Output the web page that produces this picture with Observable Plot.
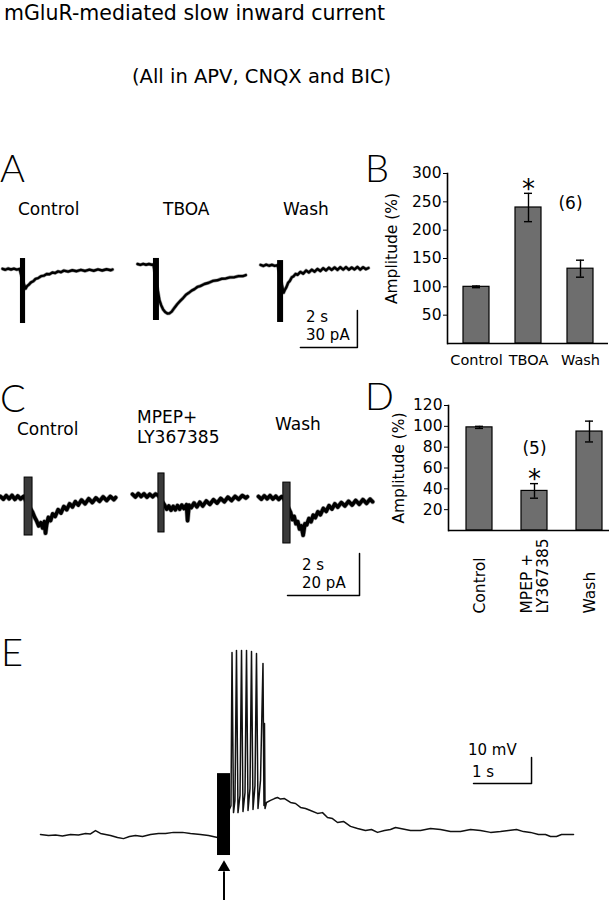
<!DOCTYPE html>
<html>
<head>
<meta charset="utf-8">
<script src="https://cdn.jsdelivr.net/npm/d3@7"></script>
<script src="https://cdn.jsdelivr.net/npm/@observablehq/plot@0.6"></script>
<style>
html,body{margin:0;padding:0;background:#fff;}
#fig{position:relative;width:611px;height:900px;overflow:hidden;background:#fff;}
#fig svg{position:absolute;}
</style>
</head>
<body>
<div id="fig"></div>
<script>
// ---------------- DATA ----------------
const titleText = "mGluR-mediated slow inward current";
const subtitleText = "(All in APV, CNQX and BIC)";
const aLabels = ["Control", "TBOA", "Wash"];
const cLabels = ["Control", "MPEP+\nLY367385", "Wash"];

// Panel A traces: [time (s), current (pA)]
const aControl = [[0,0.6],[0.1,-0.2],[0.2,0.8],[0.3,0],[0.4,0.7],[0.5,-0.1],[0.6,0.5],[0.72,-10],[0.81,-15.5],[0.86,-13.5],[0.93,-12.2],[1.0,-10.4],[1.08,-9.5],[1.16,-7.6],[1.25,-7.0],[1.35,-5.4],[1.45,-5.0],[1.55,-3.6],[1.65,-3.8],[1.75,-2.4],[1.85,-2.9],[1.95,-1.5],[2.05,-2.2],[2.15,-0.9],[2.3,-1.7],[2.45,-0.6],[2.6,-1.4],[2.75,-0.3],[2.9,-1.2],[3.05,-0.1],[3.2,-1.0],[3.35,0.1],[3.5,-0.8],[3.65,0.2],[3.8,-0.6],[3.86,0]];
const aTBOA = [[0,0.4],[0.1,-0.3],[0.2,0.5],[0.3,-0.2],[0.4,0.4],[0.5,-0.2],[0.56,0],[0.77,-29],[0.83,-33],[0.9,-36.5],[0.97,-38.5],[1.05,-39.7],[1.12,-39.6],[1.2,-38.2],[1.3,-35],[1.4,-32],[1.5,-29.5],[1.6,-27.2],[1.7,-24.5],[1.8,-23],[1.9,-21.2],[2.0,-20],[2.1,-18.2],[2.2,-17.5],[2.35,-15.8],[2.5,-14.8],[2.65,-13.3],[2.8,-12.8],[2.95,-11.6],[3.1,-11.3],[3.25,-10.4],[3.4,-10.3],[3.55,-9.4],[3.7,-9.4],[3.8,-8.6]];
const aWash = [[0,0.5],[0.1,-0.4],[0.2,0.7],[0.3,-0.2],[0.4,0.6],[0.5,-0.3],[0.6,0.3],[0.81,-22],[0.86,-19.5],[0.91,-17.5],[0.97,-14],[1.03,-12.5],[1.1,-9.5],[1.16,-8.8],[1.23,-6.8],[1.3,-7.6],[1.4,-5.2],[1.5,-6.6],[1.6,-4.0],[1.7,-5.6],[1.8,-3.4],[1.9,-5],[2.0,-2.8],[2.1,-4.5],[2.2,-2.2],[2.3,-4],[2.4,-1.8],[2.5,-3.6],[2.6,-1.6],[2.7,-3.6],[2.8,-1.4],[2.9,-3.3],[3.0,-1.3],[3.1,-3.4],[3.2,-1.6],[3.3,-3.2],[3.4,-1.2],[3.5,-3.4],[3.6,-1.4],[3.7,-3.0],[3.79,-2.0]];
const aStim = [[0.63,0.81],[0.56,0.77],[0.60,0.81]];        // stimulus artifact times (s)
const aArtifact = [[8.9,-43.8],[4.9,-45.4],[4,-46.2]];       // artifact extent (pA)
const aScale = {dt: 2, di: 30};                              // 2 s, 30 pA

// Panel C traces
const cControl = [[0,0.5],[0.08,-0.8],[0.16,0.9],[0.24,-0.6],[0.32,1.0],[0.4,-0.9],[0.48,0.7],[0.56,-0.7],[0.64,0.5],[0.89,-7],[0.95,-9.5],[1.0,-11],[1.06,-13.5],[1.12,-12],[1.17,-14.5],[1.22,-11.5],[1.25,-17],[1.28,-13],[1.33,-9.5],[1.39,-11],[1.45,-7.8],[1.52,-9],[1.6,-5.8],[1.68,-7.4],[1.76,-4.3],[1.84,-5.8],[1.92,-3],[2.0,-4.5],[2.08,-2],[2.16,-3.6],[2.25,-1.2],[2.35,-3],[2.45,-0.6],[2.55,-2.4],[2.65,-0.2],[2.75,-1.8],[2.85,0.3],[2.95,-1.4],[3.05,0.5],[3.15,-1.0],[3.2,0]];
const cMPEP = [[0,0.6],[0.08,-0.7],[0.16,0.9],[0.24,-0.5],[0.32,0.8],[0.4,-0.8],[0.48,0.6],[0.56,-0.6],[0.64,0.7],[0.72,0],[0.89,-4.5],[0.95,-6.5],[1.01,-5],[1.07,-7],[1.13,-5.2],[1.19,-6.8],[1.25,-4.8],[1.31,-6.5],[1.37,-4.6],[1.43,-6.2],[1.5,-4.4],[1.53,-12],[1.57,-4.6],[1.63,-5.8],[1.71,-3.6],[1.79,-5.4],[1.87,-3.2],[1.95,-5],[2.05,-2.6],[2.15,-4.2],[2.25,-2],[2.35,-3.6],[2.45,-1.4],[2.55,-3],[2.65,-0.8],[2.75,-2.4],[2.85,-0.4],[2.95,-1.8],[3.05,0],[3.15,-1.2],[3.19,-0.6]];
const cWash = [[0,0.5],[0.08,-0.8],[0.16,0.8],[0.24,-0.6],[0.32,0.9],[0.4,-0.7],[0.48,0.6],[0.56,-0.9],[0.64,0.4],[0.69,0],[0.89,-7],[0.94,-10.5],[0.99,-9],[1.04,-12.5],[1.09,-11.5],[1.14,-15],[1.19,-13.5],[1.24,-18],[1.29,-12.5],[1.34,-13],[1.4,-10],[1.46,-11.5],[1.52,-8.4],[1.58,-9.6],[1.65,-6.8],[1.72,-8.2],[1.8,-5.2],[1.88,-6.6],[1.96,-3.9],[2.04,-5.5],[2.12,-3],[2.2,-4.6],[2.3,-2.4],[2.4,-4],[2.5,-1.8],[2.6,-3.6],[2.7,-1.4],[2.8,-3.2],[2.9,-1],[3.0,-2.8],[3.1,-0.8],[3.17,-2]];
const cStim = [[0.67,0.89],[0.72,0.89],[0.69,0.89]];
const cArtifact = [[9.5,-18.1],[10.5,-17.6],[7.1,-21.9]];
const cScale = {dt: 2, di: 20};                              // 2 s, 20 pA

// Panel B bar chart
const bCats = ["Control", "TBOA", "Wash"];
const bMeans = [100, 240, 132];
const bErrs = [1.5, 25, 15];
const bTicks = [50, 100, 150, 200, 250, 300];
const bStar = ["TBOA"];
const bN = "(6)";

// Panel D bar chart
const dCats = ["Control", "MPEP +\nLY367385", "Wash"];
const dMeans = [99, 38, 95];
const dErrs = [1, 7, 10];
const dTicks = [20, 40, 60, 80, 100, 120];
const dStar = ["MPEP +\nLY367385"];
const dN = "(5)";
const yLabel = "Amplitude (%)";

// Panel E: membrane potential [time (s), mV relative to rest]
const eTrace = [[0,0.4],[0.138,0],[0.259,0.2],[0.379,-0.2],[0.517,0.4],[0.655,0.2],[0.776,0.8],[0.862,0.6],[0.948,1.9],[1.034,0.8],[1.121,0.4],[1.207,0],[1.328,-0.8],[1.431,-1.2],[1.534,-0.4],[1.638,0],[1.759,-0.4],[1.897,0.4],[2.034,0.8],[2.155,0.8],[2.293,1.2],[2.448,1.2],[2.586,0.8],[2.759,0.4],[2.897,0],[3.052,-0.8],
  [3.284,11.5],[3.302,70.4],[3.328,8.8],[3.353,13.5],[3.379,71.2],[3.405,8.8],[3.440,15.4],[3.466,71.2],[3.491,9.2],[3.526,16.5],[3.552,71.2],[3.578,9.6],[3.612,18.1],[3.638,70.8],[3.664,10],[3.698,19.2],[3.724,70],[3.750,10.4],[3.793,21.2],[3.836,66.2],[3.853,11.5],[3.862,43.1],[3.871,10.4],
  [3.897,12.7],[3.966,13.5],[4.034,14.2],[4.086,14.6],[4.138,14.0],[4.207,14.2],[4.310,12.7],[4.397,12.3],[4.483,10.8],[4.569,10.4],[4.655,9.6],[4.776,8.5],[4.862,8.8],[4.948,6.9],[5.034,6.5],[5.121,5.0],[5.224,5.4],[5.345,3.5],[5.466,2.7],[5.603,1.9],[5.707,2.3],[5.810,1.2],[5.931,1.9],[6.034,2.3],[6.121,3.1],[6.207,2.7],[6.379,1.9],[6.552,1.9],[6.724,2.7],[6.897,2.3],[7.069,1.5],[7.241,1.5],[7.414,2.3],[7.586,1.9],[7.759,1.2],[7.931,1.5],[8.069,1.9],[8.207,2.3],[8.328,1.5],[8.448,1.2],[8.586,0.4],[8.707,0.4],[8.793,-0.4],[8.897,-0.4],[8.983,0.4],[9.052,0.4],[9.190,0.4]];
const eStim = [3.052, 3.276];
const eArtifact = [23.8, -7.7];
const eScale = {dt: 1, dv: 10};                              // 1 s, 10 mV

// ---------------- LAYOUT HELPERS ----------------
const fig = document.getElementById("fig");
const FONT = "'DejaVu Sans', Verdana, sans-serif";
function put(node, left, top) {
  node.style.position = "absolute";
  node.style.left = left + "px";
  node.style.top = top + "px";
  fig.appendChild(node);
}
const baseStyle = {background: "transparent", overflow: "visible", color: "#000", fontFamily: FONT};

function tracePanel(cfg) {
  const {pts, stim, art, left, top, width, height, base, sx, sy, sw, stimFill, stimStroke, bar} = cfg;
  const marks = [
    Plot.line(pts, {stroke: "#222", strokeWidth: sw + 1.2, strokeOpacity: 0.45, strokeLinejoin: "round"}),
    Plot.line(pts, {stroke: "#000", strokeWidth: sw, strokeLinejoin: "round"}),
    Plot.rect([{t1: stim[0], t2: stim[1], v1: art[1], v2: art[0]}],
      {x1: "t1", x2: "t2", y1: "v1", y2: "v2", fill: stimFill, stroke: stimStroke, strokeWidth: 1})
  ];
  if (bar) {
    marks.push(Plot.line([[bar.t, bar.v], [bar.t + bar.dt, bar.v], [bar.t + bar.dt, bar.v + bar.dv]],
      {stroke: "#000", strokeWidth: 1.5}));
  }
  const p = Plot.plot({
    width, height, margin: 0, style: baseStyle,
    x: {domain: [0, width / sx], axis: null},
    y: {domain: [-(top + height - base) / sy, (base - top) / sy], axis: null},
    marks
  });
  put(p, left, top);
}

// ---------------- PANEL A ----------------
const aSx = 28.5, aSy = 37 / 30;
const aTraces = [aControl, aTBOA, aWash];
const aLefts = [2, 137, 260], aBases = [269, 264, 265];
aTraces.forEach((pts, i) => tracePanel({
  pts, stim: aStim[i], art: aArtifact[i], left: aLefts[i], top: 245, width: 115, height: 110,
  base: aBases[i], sx: aSx, sy: aSy, sw: 2.4, stimFill: "#000", stimStroke: "none",
  bar: i === 2 ? {t: 1.40, v: -66.5, dt: aScale.dt, dv: aScale.di} : null
}));

// ---------------- PANEL C ----------------
const cSx = 36, cSy = 2.1;
const cTraces = [cControl, cMPEP, cWash];
const cLefts = [0, 132, 258], cBases = [497, 495, 497];
cTraces.forEach((pts, i) => tracePanel({
  pts, stim: cStim[i], art: cArtifact[i], left: cLefts[i], top: 460, width: 120, height: 145,
  base: cBases[i], sx: cSx, sy: cSy, sw: 3.6, stimFill: "#3a3a3a", stimStroke: "#000",
  bar: i === 2 ? {t: 0.806, v: -46.7, dt: cScale.dt, dv: cScale.di} : null
}));

// ---------------- BAR CHARTS ----------------
function barChart(cfg) {
  const {cats, means, errs, ticks, ymax, star, nText, nPos, left, top, width, height, margins, pad, inset, rotated, labelDx, labelDy} = cfg;
  const data = cats.map((c, i) => ({cat: c, mean: means[i], err: errs[i]}));
  const marks = [
    Plot.barY(data, {x: "cat", y: "mean", fill: "#6e6e6e", stroke: "#000", strokeWidth: 1.2}),
    Plot.ruleX(data, {x: "cat", y1: d => d.mean - d.err, y2: d => d.mean + d.err, stroke: "#000", strokeWidth: 1.4}),
    Plot.tickY(data, {x: "cat", y: d => d.mean + d.err, insetLeft: 9, insetRight: 9, stroke: "#000", strokeWidth: 1.4}),
    Plot.tickY(data, {x: "cat", y: d => d.mean - d.err, insetLeft: 9, insetRight: 9, stroke: "#000", strokeWidth: 1.4}),
    Plot.ruleY([0], {stroke: "#000", strokeWidth: 1.6}),
    Plot.frame({anchor: "left", stroke: "#000", strokeWidth: 1.6}),
    Plot.text(data.filter(d => star.includes(d.cat)), {x: "cat", y: d => d.mean + d.err, text: () => "*", fontSize: 26, dy: -4}),
    Plot.text([nPos], {x: "x", y: "y", text: () => nText, fontSize: 17, dx: nPos.dx}),
    Plot.text([yLabel], {frameAnchor: "left", text: d => d, rotate: -90, textAnchor: "middle", lineAnchor: "middle", dx: labelDx, dy: labelDy, fontSize: 15.5})
  ];
  if (rotated) {
    marks.push(Plot.text(cats, {x: d => d, text: d => d, frameAnchor: "bottom", rotate: -90, textAnchor: "start", lineAnchor: "middle", dy: rotated, fontSize: 15.5, lineHeight: 1.05}));
  } else {
    marks.push(Plot.text(cats, {x: d => d, text: d => d, frameAnchor: "bottom", lineAnchor: "top", dy: 11, fontSize: 14.5}));
  }
  const p = Plot.plot({
    width, height, ...margins,
    style: {...baseStyle, fontSize: "15.5px"},
    x: {domain: cats, paddingInner: pad[0], paddingOuter: pad[1], insetLeft: inset[0], insetRight: inset[1], axis: null},
    y: {domain: [0, ymax], ticks, tickSize: 4, tickPadding: 2, label: null, tickFormat: d => String(d)},
    marks
  });
  put(p, left, top);
}

barChart({
  cats: bCats, means: bMeans, errs: bErrs, ticks: bTicks, ymax: 300, star: bStar, nText: bN,
  nPos: {x: "Wash", y: 247, dx: -10},
  left: 380, top: 160, width: 231, height: 215,
  margins: {marginLeft: 67, marginRight: 3, marginTop: 13, marginBottom: 32},
  pad: [0.5, 0.25], inset: [2, 2], rotated: 0, labelDx: -55, labelDy: -10
});

barChart({
  cats: dCats, means: dMeans, errs: dErrs, ticks: dTicks, ymax: 120, star: dStar, nText: dN,
  nPos: {x: "MPEP +\nLY367385", y: 79, dx: 0},
  left: 380, top: 395, width: 231, height: 225,
  margins: {marginLeft: 68, marginRight: 2, marginTop: 10, marginBottom: 90},
  pad: [0.53, 0.09], inset: [12, 2], rotated: 83, labelDx: -49, labelDy: 0
});

// ---------------- PANEL E ----------------
(function () {
  const sx = 58, sy = 2.6, left = 40, top = 630, width = 545, height = 275, base = 835;
  const stimMid = (eStim[0] + eStim[1]) / 2;
  const p = Plot.plot({
    width, height, margin: 0, style: baseStyle,
    x: {domain: [0, width / sx], axis: null},
    y: {domain: [-(top + height - base) / sy, (base - top) / sy], axis: null},
    marks: [
      Plot.line(eTrace, {stroke: "#111", strokeWidth: 1.5, strokeLinejoin: "round"}),
      Plot.rect([{t1: eStim[0], t2: eStim[1], v1: eArtifact[1], v2: eArtifact[0]}],
        {x1: "t1", x2: "t2", y1: "v1", y2: "v2", fill: "#000"}),
      Plot.ruleX([stimMid], {y1: -26, y2: -14, stroke: "#000", strokeWidth: 2}),
      Plot.dot([stimMid], {x: d => d, y: () => -12.3, symbol: "triangle", r: 4.6, fill: "#000", stroke: "none"}),
      Plot.line([[7.466, 20], [7.466 + eScale.dt, 20], [7.466 + eScale.dt, 20 + eScale.dv]], {stroke: "#000", strokeWidth: 1.5})
    ]
  });
  put(p, left, top);
})();

// ---------------- TEXT OVERLAY ----------------
const svg = d3.create("svg").attr("width", 611).attr("height", 900)
  .style("position", "absolute").style("left", "0px").style("top", "0px").style("pointer-events", "none")
  .attr("font-family", FONT).attr("fill", "#000");
function txt(s, x, y, size, extra = {}) {
  const t = svg.append("text").attr("x", x).attr("y", y).attr("font-size", size).text(s);
  for (const k in extra) t.attr(k, extra[k]);
  return t;
}
txt(titleText, 4, 20, 20.5);
txt(subtitleText, 132, 83, 19.5);
const letterStyle = {"font-family": "Lato, 'DejaVu Sans', sans-serif", "font-weight": 300};
txt("A", 0, 182, 38, letterStyle);
txt("B", 365, 182, 38, letterStyle);
txt("C", 0, 412, 38, letterStyle);
txt("D", 365, 410, 38, letterStyle);
txt("E", 1, 666, 38, letterStyle);
// panel A labels
[[18, 215], [163, 215], [283, 215]].forEach(([x, y], i) => txt(aLabels[i], x, y, 17));
// panel C labels
txt(cLabels[0], 17, 435, 17);
cLabels[1].split("\n").forEach((s, j) => txt(s, 137, 423 + j * 20, 17));
txt(cLabels[2], 275, 430, 17);
// scale bar labels
txt(`${aScale.dt} s`, 306, 322, 15);
txt(`${aScale.di} pA`, 306, 340, 15);
txt(`${cScale.dt} s`, 302, 570, 15);
txt(`${cScale.di} pA`, 302, 588, 15);
txt(`${eScale.dv} mV`, 468, 755, 15);
txt(`${eScale.dt} s`, 472, 777, 15);
fig.appendChild(svg.node());
</script>
</body>
</html>
